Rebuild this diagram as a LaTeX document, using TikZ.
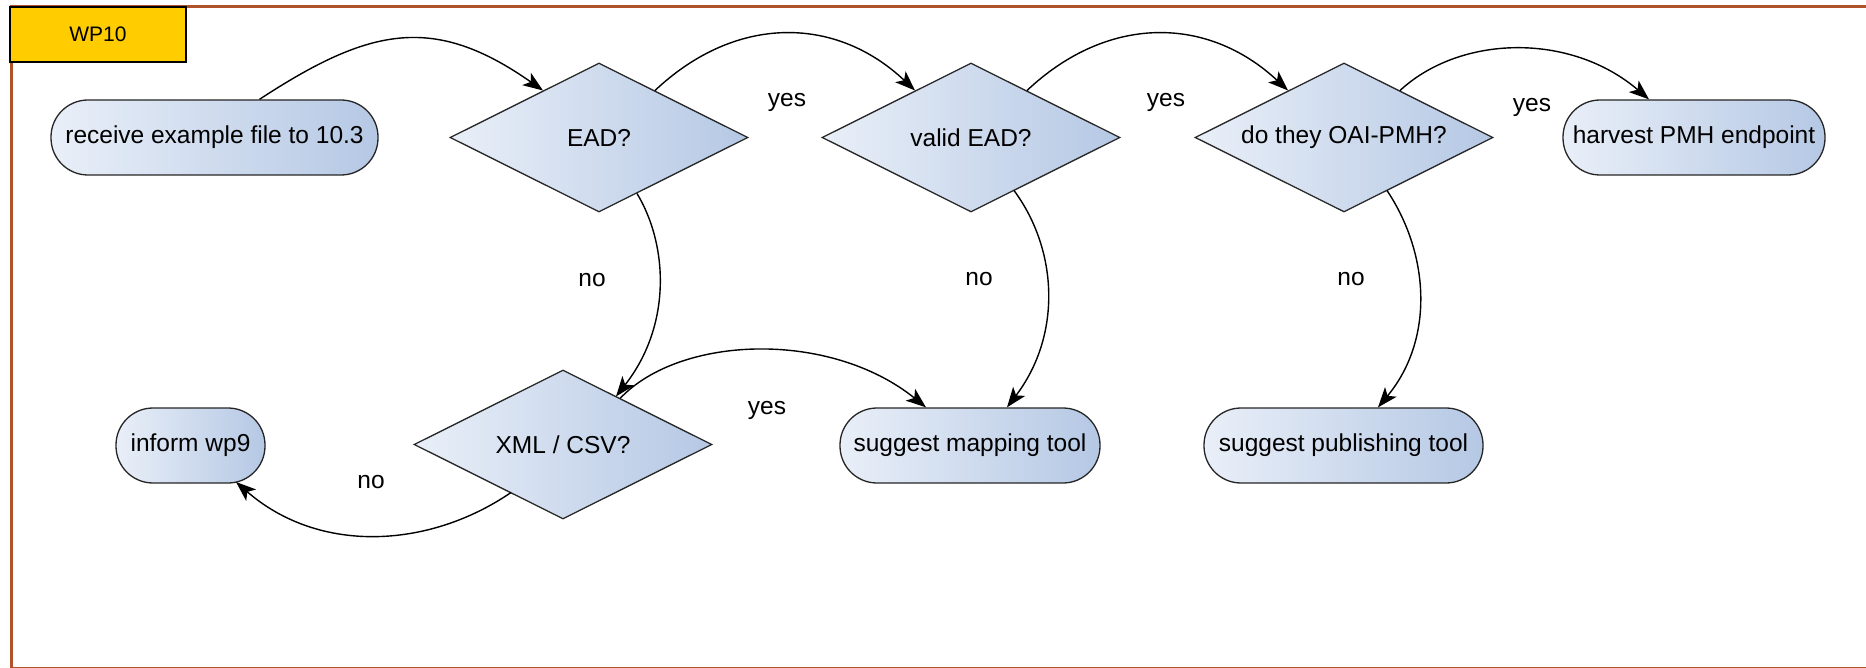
\documentclass[tikz,border=0pt]{standalone}
\usepackage{fontspec}
\setmainfont{Liberation Sans}
\usetikzlibrary{shapes.geometric,arrows.meta,calc}
\definecolor{frameC}{HTML}{B0522A}
\definecolor{wpC}{HTML}{FFCC00}
\definecolor{gLeft}{HTML}{E9EFF8}
\definecolor{gRight}{HTML}{B5C8E4}
\tikzset{
  txt/.style={font=\fontsize{24.5}{28}\selectfont},
  base/.style={txt, draw=black!85, line width=1.3pt, left color=gLeft, right color=gRight, inner sep=0pt},
  term/.style={base, rectangle, rounded corners=37pt, minimum height=75pt},
  decision/.style={base, diamond, aspect=2, minimum width=298pt, minimum height=149pt},
  arr/.style={draw=black, line width=1.4pt, -{Stealth[length=20pt,width=15pt,inset=5pt]}},
  lbl/.style={txt, inner sep=0pt},
  wpbox/.style={draw=black, line width=1.3pt, fill=wpC, font=\fontsize{21}{24}\selectfont, minimum width=176pt, minimum height=55pt, inner sep=0pt},
}
\begin{document}
\begin{tikzpicture}[x=1pt,y=-1pt]
\useasboundingbox (0,0) rectangle (1866,668);
\fill[white] (0,0) rectangle (1866,668);
\draw[frameC, line width=3pt] (11.5,6.5) rectangle (1880,668);
\node[wpbox] (wp) at (98,34.5) {WP10};

\node[term, minimum width=327pt] (recv) at (214.5,137.5) {receive example file to 10.3};
\node[decision] (ead) at (599,137.5) {EAD?};
\node[decision] (valid) at (971,137.5) {valid EAD?};
\node[decision] (oai) at (1344,137.5) {do they OAI-PMH?};
\node[term, minimum width=262pt] (harv) at (1694,137.5) {harvest PMH endpoint};
\node[decision] (xml) at (563,444.5) {XML / CSV?};
\node[term, minimum width=149pt] (inf) at (190.5,445.5) {inform wp9};
\node[term, minimum width=260pt] (map) at (970,445.5) {suggest mapping tool};
\node[term, minimum width=279pt] (pub) at (1343.5,445.5) {suggest publishing tool};

\node[lbl] (y1) at (787,102) {yes};
\node[lbl] (y2) at (1166,102) {yes};
\node[lbl] (y3) at (1532,107) {yes};
\node[lbl] (n1) at (592,280) {no};
\node[lbl] (n2) at (979,279) {no};
\node[lbl] (n3) at (1351,279) {no};
\node[lbl] (y4) at (767,410) {yes};
\node[lbl] (n4) at (371,482) {no};

\draw[arr] ($(recv.north)+(45,0)$) .. controls (370,27) and (434,14) .. ($(ead.center)+(-56,-47)$);
\draw[arr] ($(ead.center)+(56,-47)$) .. controls (735,15) and (835,15) .. ($(valid.center)+(-56,-47)$);
\draw[arr] ($(valid.center)+(56,-47)$) .. controls (1107,15) and (1207,15) .. ($(oai.center)+(-56,-47)$);
\draw[arr] ($(oai.center)+(56,-47)$) .. controls (1460,35) and (1570,32) .. ($(harv.north)+(-45,0)$);
\draw[arr] ($(ead.center)+(38,56)$) .. controls (668,245) and (672,325) .. ($(xml.center)+(53,-48)$);
\draw[arr] ($(valid.center)+(43,53)$) .. controls (1058,250) and (1062,335) .. ($(map.north)+(37,0)$);
\draw[arr] ($(oai.center)+(43,53)$) .. controls (1430,255) and (1434,340) .. ($(pub.north)+(34.5,0)$);
\draw[arr] ($(xml.center)+(57,-46)$) .. controls (680,335) and (830,330) .. ($(map.north)+(-44,0)$);
\draw[arr] ($(xml.center)+(-52,48)$) .. controls (430,548) and (320,555) .. ($(inf.center)+(45.5,36.5)$);
\end{tikzpicture}
\end{document}
